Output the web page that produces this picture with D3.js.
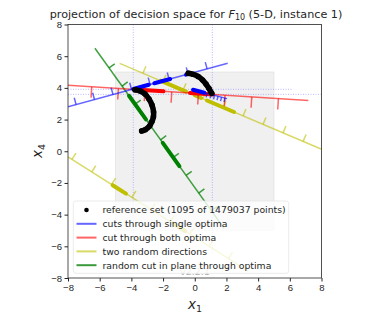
<!DOCTYPE html>
<html>
<head>
<meta charset="utf-8">
<script src="https://cdn.jsdelivr.net/npm/d3@7"></script>
<style>
  body { margin: 0; background: #fff; }
  svg { font-family: "DejaVu Sans", sans-serif; }
  .tick text { fill: #262626; font-size: 9.5px; }
  .tick line { stroke: #262626; }
  .domain { display: none; }
</style>
</head>
<body>
<svg id="chart" width="383" height="321"></svg>
<script>
// optima of the problem (projected)
var optimaX = [-3.88, 1.11];
var optimaY = [3.91, 3.59];
var optLineXEnd = [6.12, 8];   // horizontal guide ends
var optLineYEnd = -6.4;        // vertical guide ends

// reference set, read along the two black arcs
var refArc1 = [[-3.77, 3.88], [-3.45, 3.80], [-3.14, 3.61], [-2.89, 3.30], [-2.70, 2.92],
  [-2.60, 2.48], [-2.61, 2.16], [-2.70, 1.88], [-2.85, 1.59], [-3.11, 1.37], [-3.35, 1.28]];
var refArc2 = [[-0.41, 4.92], [-0.11, 4.86], [0.21, 4.72], [0.49, 4.50], [0.71, 4.24],
  [0.90, 3.96], [1.07, 3.66]];

// cuts: end points, tick positions (x), thick parts (x ranges)
var blueCut1 = [[-8, 2.81], [2.08, 5.55]];
var blueTicks1 = [-7.49, -6.33, -5.16, -3.99, -2.82, -1.62, -0.42, 0.78];
var blueThick1 = [[-3.88, -2.9], [-2.55, -1.55], [-0.55, -0.3]];

var blueCut2 = [[-0.11, 3.88], [2.04, 3.32]];
var blueTicks2 = [0.78, 1.03, 1.25, 1.47, 1.69, 1.91];
var blueThick2 = [[-0.11, 0.6]];

var redCut = [[-8, 4.16], [7.17, 3.21]];
var redTicks = [-6.50, -4.82, -3.14, -1.45, 0.23, 1.91, 3.60, 5.28];
var redThick = [[-3.77, -1.98], [-0.30, 1.15]];

var yellowCut1 = [[-4.74, 5.55], [7.97, 0.14]];
var yellowTicks1 = [-3.27, -2.00, -0.74, 0.52, 1.79, 3.05, 4.31, 5.57, 6.84];
var yellowThick1 = [[-2.13, -0.55], [0.0, 0.4], [0.77, 2.48]];

var yellowCut2 = [[-8, -0.36], [3.38, -7.56]];
var yellowTicks2 = [-7.75, -6.50, -5.25, -3.97, -2.75, -1.53, -0.31, 0.91, 2.13];
var yellowThick2 = [[-5.18, -4.34], [-1.35, -0.61]];

var greenCut = [[-6.30, 6.50], [1.85, -4.87]];
var greenTicks = [-5.41, -4.59, -3.77, -2.96, -2.16, -1.36, -0.55, 0.25, 1.05];
var greenThick = [[-4.15, -3.08], [-2.02, -0.97]];

var legendLabels = ["reference set (1095 of 1479037 points)", "cuts through single optima",
  "cut through both optima", "two random directions", "random cut in plane through optima"];
var legendColors = ["#000", "#6666ff", "#ff6666", "#d9d966", "#3a9a3a"];

var axisTicks = [-8, -6, -4, -2, 0, 2, 4, 6, 8];

var svg = d3.select("#chart");
var plotLeft = 68, plotRight = 321.5, plotTop = 24.5, plotBottom = 278;

var x = d3.scaleLinear().domain([-8, 8]).range([plotLeft, plotRight]);
var y = d3.scaleLinear().domain([-8, 8]).range([plotBottom, plotTop]);

svg.append("clipPath").attr("id", "clip")
  .append("rect").attr("x", plotLeft).attr("y", plotTop)
  .attr("width", plotRight - plotLeft).attr("height", plotBottom - plotTop);

var plot = svg.append("g").attr("clip-path", "url(#clip)");

// grey region [-5,5]^2
plot.append("rect")
  .attr("x", x(-5)).attr("y", y(5))
  .attr("width", x(5) - x(-5)).attr("height", y(-5) - y(5))
  .attr("fill", "#f0f0f0").attr("stroke", "#e4e4e4").attr("stroke-width", 0.8);

// dotted guides through optima
optimaX.forEach(function(ox) {
  plot.append("line")
    .attr("x1", x(ox)).attr("x2", x(ox)).attr("y1", y(8)).attr("y2", y(optLineYEnd))
    .attr("stroke", "#9999ff").attr("stroke-width", 0.7).attr("stroke-dasharray", "1,1.5");
});
optimaY.forEach(function(oy, i) {
  plot.append("line")
    .attr("x1", x(-8)).attr("x2", x(optLineXEnd[i])).attr("y1", y(oy)).attr("y2", y(oy))
    .attr("stroke", "#9999ff").attr("stroke-width", 0.7).attr("stroke-dasharray", "1,1.5");
});

function pointAt(ends, vx) {
  var t = (vx - ends[0][0]) / (ends[1][0] - ends[0][0]);
  return [vx, ends[0][1] + t * (ends[1][1] - ends[0][1])];
}

function drawCut(ends, ticks, thick, color, thickColor, tickLen, up, opacity) {
  var p0 = [x(ends[0][0]), y(ends[0][1])], p1 = [x(ends[1][0]), y(ends[1][1])];
  var len = Math.hypot(p1[0] - p0[0], p1[1] - p0[1]);
  var dx = (p1[0] - p0[0]) / len, dy = (p1[1] - p0[1]) / len;
  var n = up ? [dy, -dx] : [-dy, dx];

  plot.append("line")
    .attr("x1", p0[0]).attr("y1", p0[1]).attr("x2", p1[0]).attr("y2", p1[1])
    .attr("stroke", color).attr("stroke-opacity", opacity).attr("stroke-width", 1.5);

  plot.selectAll(null).data(ticks).enter().append("line")
    .attr("x1", d => x(pointAt(ends, d)[0]))
    .attr("y1", d => y(pointAt(ends, d)[1]))
    .attr("x2", d => x(pointAt(ends, d)[0]) + n[0] * tickLen)
    .attr("y2", d => y(pointAt(ends, d)[1]) + n[1] * tickLen)
    .attr("stroke", color).attr("stroke-opacity", opacity).attr("stroke-width", 1.5);

  plot.selectAll(null).data(thick).enter().append("line")
    .attr("x1", d => x(pointAt(ends, d[0])[0]))
    .attr("y1", d => y(pointAt(ends, d[0])[1]))
    .attr("x2", d => x(pointAt(ends, d[1])[0]))
    .attr("y2", d => y(pointAt(ends, d[1])[1]))
    .attr("stroke", thickColor).attr("stroke-width", 4).attr("stroke-linecap", "round");
}

drawCut(yellowCut2, yellowTicks2, yellowThick2, "#bfbf00", "#bfbf00", 7.5, true, 0.6);
drawCut(yellowCut1, yellowTicks1, yellowThick1, "#bfbf00", "#bfbf00", 7.5, true, 0.6);
drawCut(greenCut, greenTicks, greenThick, "#008000", "#008000", 7, true, 0.75);
drawCut(redCut, redTicks, redThick, "#ff0000", "#ff0000", 11, false, 0.6);
drawCut(blueCut1, blueTicks1, blueThick1, "#0000ff", "#0000ff", 7, true, 0.6);
drawCut(blueCut2, blueTicks2, blueThick2, "#0000ff", "#0000ff", 4, false, 0.6);

// reference set
[refArc1, refArc2].forEach(function(arc) {
  plot.append("path")
    .datum(arc)
    .attr("d", d3.line().x(d => x(d[0])).y(d => y(d[1])).curve(d3.curveCatmullRom))
    .attr("fill", "none").attr("stroke", "#000").attr("stroke-width", 5.5)
    .attr("stroke-linecap", "round").attr("stroke-linejoin", "round");
  plot.selectAll(null).data(arc).enter().append("circle")
    .attr("cx", d => x(d[0])).attr("cy", d => y(d[1])).attr("r", 2.8).attr("fill", "#000");
});

// version watermark
svg.append("text").attr("x", 195).attr("y", 274.5).attr("text-anchor", "middle")
  .attr("font-size", 9.5).attr("fill", "#b0b0b0").text("v2.2.1");

// frame
svg.append("rect").attr("x", plotLeft).attr("y", plotTop)
  .attr("width", plotRight - plotLeft).attr("height", plotBottom - plotTop)
  .attr("fill", "none").attr("stroke", "#262626").attr("stroke-width", 0.8);

// axes
svg.append("g").attr("transform", "translate(0," + plotBottom + ")")
  .call(d3.axisBottom(x).tickValues(axisTicks).tickSize(3.5).tickPadding(2.5));
svg.append("g").attr("transform", "translate(" + plotLeft + ",0)")
  .call(d3.axisLeft(y).tickValues(axisTicks).tickSize(3.5).tickPadding(2.5));

// legend
var lg = svg.append("g");
lg.append("rect").attr("x", 73.3).attr("y", 201).attr("width", 215.4).attr("height", 72.3)
  .attr("rx", 2.5).attr("fill", "#fff").attr("fill-opacity", 0.8)
  .attr("stroke", "#e6e6e6").attr("stroke-width", 0.8);
legendLabels.forEach(function(lab, i) {
  var ry = 210 + i * 13.8;
  if (i === 0) {
    lg.append("circle").attr("cx", 86.5).attr("cy", ry).attr("r", 2.3).attr("fill", "#000");
  } else {
    lg.append("line").attr("x1", 76.5).attr("x2", 96.5).attr("y1", ry).attr("y2", ry)
      .attr("stroke", legendColors[i]).attr("stroke-width", 2);
  }
  lg.append("text").attr("x", 102.5).attr("y", ry + 3.4)
    .attr("font-size", 9.3).attr("fill", "#262626").text(lab);
});

// title
var title = svg.append("text").attr("x", 196).attr("y", 17.5).attr("text-anchor", "middle")
  .attr("font-size", 11.2).attr("fill", "#262626");
title.append("tspan").text("projection of decision space for ");
title.append("tspan").attr("font-style", "italic").text("F");
title.append("tspan").attr("font-size", 8).attr("dy", 2).text("10");
title.append("tspan").attr("dy", -2).text(" (5-D, instance 1)");

// axis labels
var xl = svg.append("text").attr("x", 195).attr("y", 309).attr("text-anchor", "middle")
  .attr("font-size", 13.5).attr("fill", "#262626");
xl.append("tspan").attr("font-style", "italic").text("x");
xl.append("tspan").attr("font-size", 9.5).attr("dy", 2.5).text("1");

var yl = svg.append("text").attr("transform", "translate(42,151) rotate(-90)")
  .attr("text-anchor", "middle").attr("font-size", 13.5).attr("fill", "#262626");
yl.append("tspan").attr("font-style", "italic").text("x");
yl.append("tspan").attr("font-size", 9.5).attr("dy", 2.5).text("4");
</script>
</body>
</html>
